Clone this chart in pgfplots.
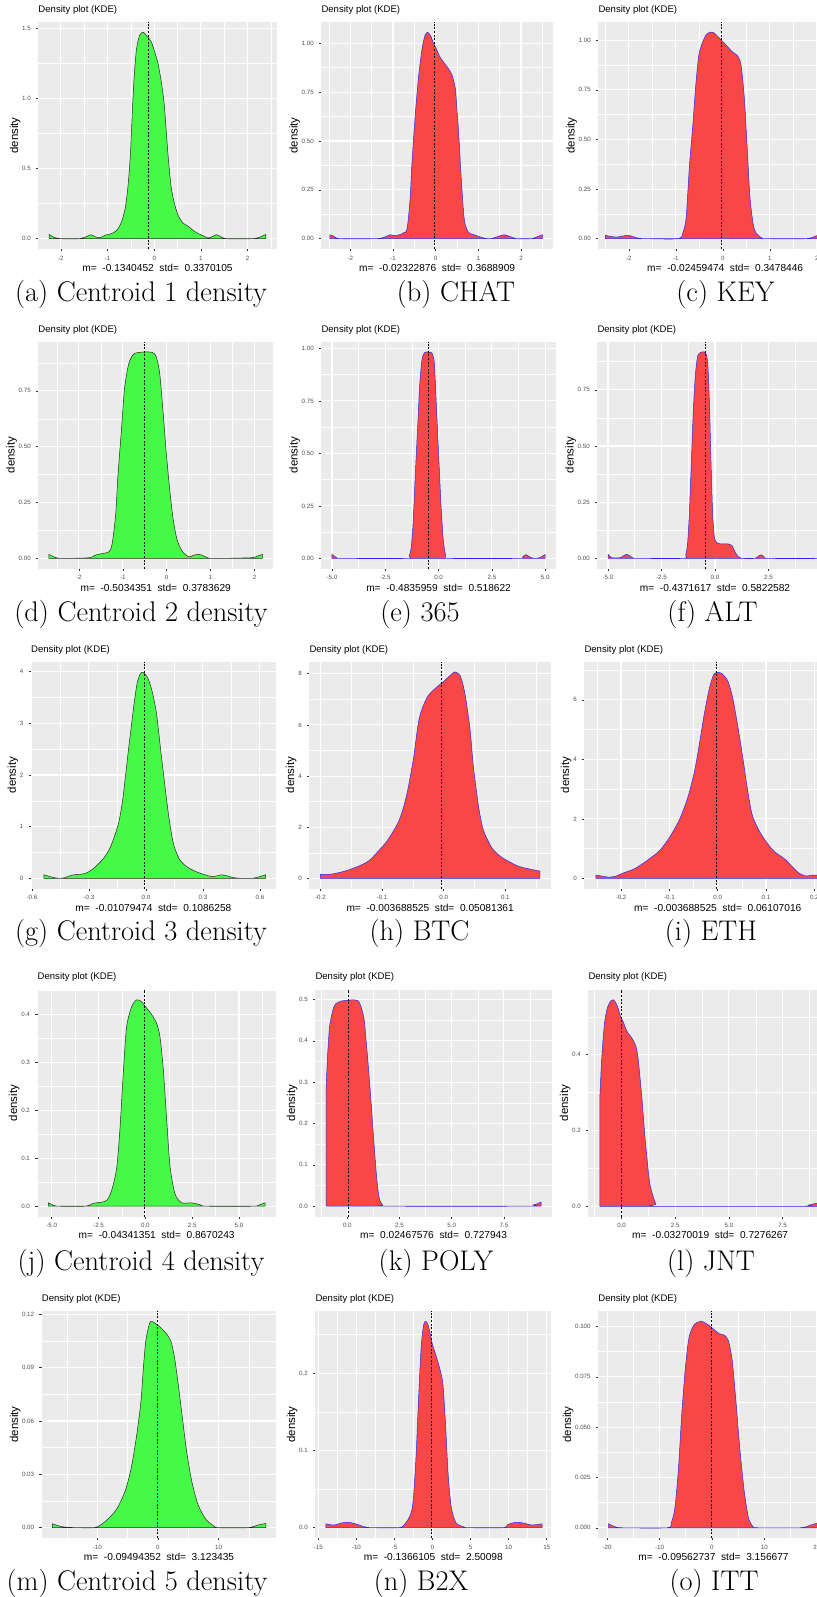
\documentclass[border=0pt]{standalone}
\usepackage{fontspec}
\setsansfont{Liberation Sans}
\usepackage{pgfplots}
\pgfplotsset{compat=1.18}
\definecolor{ggbg}{RGB}{235,235,235}
\definecolor{ggtick}{RGB}{51,51,51}
\definecolor{ggtxt}{RGB}{77,77,77}
\definecolor{gfill}{RGB}{71,249,71}
\definecolor{rfill}{RGB}{249,71,71}
\definecolor{rline}{RGB}{40,40,235}
\newcommand{\ggtitlefont}{\sffamily\fontsize{9.6}{11}\selectfont}
\newcommand{\gglabfont}{\sffamily\fontsize{10.2}{12}\selectfont}
\newcommand{\ggylabfont}{\sffamily\fontsize{11.5}{13}\selectfont}
\newcommand{\ggtickfont}{\sffamily\fontsize{6.2}{7}\selectfont}
\newcommand{\capfont}{\rmfamily\fontsize{28.5}{33}\selectfont}
\pgfplotsset{
  kde/.style={
    scale only axis, anchor=north west, height=227bp,
    axis background/.style={fill=ggbg, draw=none},
    axis line style={draw=none},
    xmajorgrids=true, ymajorgrids=true, xminorgrids=true, yminorgrids=true,
    major grid style={draw=white, line width=1.1bp},
    minor grid style={draw=white, line width=0.55bp},
    tick align=outside, tick pos=left,
    major tick length=2.2bp, minor tick length=0pt,
    major tick style={draw=ggtick, line width=0.5bp},
    tick label style={font=\ggtickfont, text=ggtxt},
    xticklabel style={anchor=north, inner sep=0pt, yshift=-4.5bp},
    yticklabel style={anchor=east, inner sep=0pt, xshift=-5.2bp},
    title={Density plot (KDE)},
    title style={at={(0,1)}, anchor=south west, inner sep=0pt, yshift=1.5bp, font=\ggtitlefont},
    xlabel style={at={(axis description cs:0.5,0)}, anchor=base, yshift=-22.4bp, inner sep=0pt, font=\gglabfont},
    ylabel={density},
    ylabel style={font=\ggylabfont, inner sep=1.5bp},
  },
  gden/.style={fill=gfill, draw=black!85, line width=0.5bp, smooth, tension=0.45},
  rden/.style={fill=rfill, draw=rline, line width=0.5bp, smooth, tension=0.45},
  mline/.style={black, line width=0.55bp, dash pattern=on 2bp off 1.6bp},
}
\begin{document}
\begin{tikzpicture}
\path[use as bounding box] (0,0) rectangle (817bp,-1597bp);
\clip (0,0) rectangle (817bp,-1597bp);

% ---------------- (a) Centroid 1
\begin{axis}[kde, at={(38.3bp,-22bp)}, width=238.4bp,
  xmin=-2.482, xmax=2.622, ymin=-0.0735, ymax=1.5435,
  xtick={-2,-1,0,1,2}, xticklabels={-2,-1,0,1,2},
  minor xtick={-1.5,-0.5,0.5,1.5,2.5},
  ytick={0,0.5,1,1.5}, yticklabels={0.0,0.5,1.0,1.5},
  minor ytick={0.25,0.75,1.25},
  xlabel={m=\ \ -0.1340452\ \ std=\ \ 0.3370105}]
\addplot[gden] coordinates {(-2.25,0.03) (-2.15,0.01) (-2.0,0) (-1.6,0) (-1.45,0.015) (-1.35,0.028) (-1.25,0.012) (-1.15,0.008) (-1.05,0.025) (-0.92,0.035) (-0.8,0.06) (-0.7,0.12) (-0.62,0.22) (-0.56,0.38) (-0.51,0.6) (-0.47,0.9) (-0.43,1.15) (-0.38,1.35) (-0.31,1.45) (-0.23,1.47) (-0.15,1.44) (-0.06,1.40) (0.02,1.32) (0.08,1.25) (0.15,1.12) (0.21,0.97) (0.25,0.8) (0.29,0.62) (0.33,0.47) (0.37,0.35) (0.44,0.24) (0.52,0.16) (0.62,0.11) (0.72,0.09) (0.85,0.055) (0.95,0.035) (1.05,0.02) (1.15,0.005) (1.25,0.015) (1.33,0.028) (1.42,0.015) (1.55,0) (2.1,0) (2.25,0.01) (2.39,0.03)} \closedcycle;
\addplot[mline] coordinates {(-0.1340452,-0.0735) (-0.1340452,1.5435)};
\end{axis}
\node[font=\capfont, anchor=base] at (141bp,-301.5bp) {(a) Centroid 1 density};

% ---------------- (b) CHAT
\begin{axis}[kde, at={(321.3bp,-22bp)}, width=231.7bp,
  xmin=-2.68, xmax=2.75, ymin=-0.053, ymax=1.109,
  xtick={-2,-1,0,1,2}, xticklabels={-2,-1,0,1,2},
  minor xtick={-2.5,-1.5,-0.5,0.5,1.5,2.5},
  ytick={0,0.25,0.5,0.75,1}, yticklabels={0.00,0.25,0.50,0.75,1.00},
  minor ytick={0.125,0.375,0.625,0.875},
  xlabel={m=\ \ -0.02322876\ \ std=\ \ 0.3688909}]
\addplot[rden] coordinates {(-2.48,0.02) (-2.38,0.012) (-2.25,0) (-1.4,0) (-1.2,0.008) (-1.07,0.02) (-0.95,0.015) (-0.85,0.02) (-0.75,0.03) (-0.67,0.05) (-0.6,0.2) (-0.56,0.37) (-0.48,0.63) (-0.4,0.83) (-0.32,0.97) (-0.25,1.04) (-0.19,1.056) (-0.12,1.04) (-0.05,1.0) (0,0.98) (0.1,0.93) (0.2,0.9) (0.3,0.87) (0.38,0.84) (0.46,0.77) (0.5,0.66) (0.54,0.54) (0.58,0.38) (0.62,0.24) (0.66,0.12) (0.7,0.065) (0.78,0.03) (0.9,0.02) (1.0,0.012) (1.15,0.002) (1.3,0) (1.45,0.01) (1.6,0.02) (1.75,0.01) (1.9,0) (2.25,0) (2.38,0.01) (2.5,0.02)} \closedcycle;
\addplot[mline] coordinates {(-0.02322876,-0.053) (-0.02322876,1.109)};
\end{axis}
\node[font=\capfont, anchor=base] at (456bp,-301.5bp) {(b) CHAT};

% ---------------- (c) KEY
\begin{axis}[kde, at={(598.3bp,-22bp)}, width=253.8bp,
  xmin=-2.65, xmax=2.75, ymin=-0.052, ymax=1.092,
  xtick={-2,-1,0,1,2}, xticklabels={-2,-1,0,1,2},
  minor xtick={-2.5,-1.5,-0.5,0.5,1.5,2.5},
  ytick={0,0.25,0.5,0.75,1}, yticklabels={0.00,0.25,0.50,0.75,1.00},
  minor ytick={0.125,0.375,0.625,0.875},
  xlabel={m=\ \ -0.02459474\ \ std=\ \ 0.3478446}]
\addplot[rden] coordinates {(-2.5,0.017) (-2.27,0.008) (-2.02,0.017) (-1.81,0.003) (-1.6,0) (-0.95,0) (-0.85,0.03) (-0.78,0.11) (-0.71,0.37) (-0.64,0.57) (-0.57,0.79) (-0.5,0.94) (-0.35,1.03) (-0.21,1.04) (-0.07,1.01) (0.07,0.975) (0.21,0.94) (0.32,0.92) (0.39,0.87) (0.46,0.7) (0.52,0.45) (0.58,0.2) (0.67,0.047) (0.82,0.005) (0.95,0) (1.77,0) (2.03,0.017) (2.2,0.008) (2.35,0.005) (2.5,0.02)} \closedcycle;
\addplot[mline] coordinates {(-0.02459474,-0.052) (-0.02459474,1.092)};
\end{axis}
\node[font=\capfont, anchor=base] at (725.5bp,-301.5bp) {(c) KEY};

% ---------------- (d) Centroid 2
\begin{axis}[kde, at={(38.3bp,-341.7bp)}, width=234.8bp,
  xmin=-2.923, xmax=2.423, ymin=-0.046, ymax=0.97,
  xtick={-2,-1,0,1,2}, xticklabels={-2,-1,0,1,2},
  minor xtick={-2.5,-1.5,-0.5,0.5,1.5},
  ytick={0,0.25,0.5,0.75}, yticklabels={0.00,0.25,0.50,0.75},
  minor ytick={0.125,0.375,0.625,0.875},
  xlabel={m=\ \ -0.5034351\ \ std=\ \ 0.3783629}]
\addplot[gden] coordinates {(-2.68,0.018) (-2.53,0.004) (-2.38,0) (-1.77,0.003) (-1.62,0.015) (-1.46,0.022) (-1.31,0.03) (-1.24,0.067) (-1.16,0.2) (-1.11,0.37) (-1.03,0.575) (-0.96,0.76) (-0.86,0.874) (-0.74,0.916) (-0.52,0.924) (-0.33,0.922) (-0.24,0.904) (-0.16,0.83) (-0.08,0.65) (-0.008,0.47) (0.07,0.306) (0.15,0.172) (0.24,0.082) (0.36,0.03) (0.51,0.007) (0.62,0.015) (0.75,0.018) (0.89,0.007) (1.04,0) (1.91,0.003) (2.06,0.01) (2.18,0.018)} \closedcycle;
\addplot[mline] coordinates {(-0.5034351,-0.046) (-0.5034351,0.97)};
\end{axis}
\node[font=\capfont, anchor=base] at (141bp,-621.5bp) {(d) Centroid 2 density};

% ---------------- (e) 365
\begin{axis}[kde, at={(321.3bp,-341.7bp)}, width=234.6bp,
  xmin=-5.5, xmax=5.5, ymin=-0.049, ymax=1.032,
  xtick={-5,-2.5,0,2.5,5}, xticklabels={-5.0,-2.5,0.0,2.5,5.0},
  minor xtick={-3.75,-1.25,1.25,3.75},
  ytick={0,0.25,0.5,0.75,1}, yticklabels={0.00,0.25,0.50,0.75,1.00},
  minor ytick={0.125,0.375,0.625,0.875},
  xlabel={m=\ \ -0.4835959\ \ std=\ \ 0.518622}]
\addplot[rden] coordinates {(-5.0,0.019) (-4.77,0.003) (-4.53,0) (-1.48,0) (-1.38,0.011) (-1.28,0.056) (-1.19,0.18) (-1.09,0.405) (-0.98,0.63) (-0.89,0.82) (-0.78,0.946) (-0.66,0.98) (-0.47,0.983) (-0.31,0.978) (-0.2,0.93) (-0.11,0.74) (0,0.5) (0.11,0.26) (0.22,0.087) (0.34,0.011) (0.47,0) (3.75,0) (3.94,0.008) (4.1,0.018) (4.3,0.005) (4.53,0) (4.77,0.005) (5.0,0.019)} \closedcycle;
\addplot[mline] coordinates {(-0.4835959,-0.049) (-0.4835959,1.032)};
\end{axis}
\node[font=\capfont, anchor=base] at (420bp,-621.5bp) {(e) 365};

% ---------------- (f) ALT
\begin{axis}[kde, at={(597.3bp,-341.7bp)}, width=235.4bp,
  xmin=-5.5, xmax=5.5, ymin=-0.046, ymax=0.964,
  xtick={-5,-2.5,0,2.5,5}, xticklabels={-5.0,-2.5,0.0,2.5,5.0},
  minor xtick={-3.75,-1.25,1.25,3.75},
  ytick={0,0.25,0.5,0.75}, yticklabels={0.00,0.25,0.50,0.75},
  minor ytick={0.125,0.375,0.625,0.875},
  xlabel={m=\ \ -0.4371617\ \ std=\ \ 0.5822582}]
\addplot[rden] coordinates {(-5.0,0.018) (-4.83,0.003) (-4.44,0.003) (-4.13,0.018) (-3.86,0.003) (-3.58,0) (-1.48,0) (-1.37,0.015) (-1.28,0.067) (-1.2,0.2) (-1.12,0.39) (-1.03,0.62) (-0.93,0.8) (-0.81,0.9) (-0.62,0.918) (-0.44,0.914) (-0.34,0.87) (-0.26,0.69) (-0.19,0.44) (-0.11,0.2) (-0.03,0.097) (0.08,0.07) (0.31,0.064) (0.62,0.064) (0.81,0.055) (0.93,0.03) (1.09,0.007) (1.25,0) (1.87,0) (2.02,0.01) (2.15,0.016) (2.3,0.007) (2.49,0) (4.8,0) (5.0,0.018)} \closedcycle;
\addplot[mline] coordinates {(-0.4371617,-0.046) (-0.4371617,0.964)};
\end{axis}
\node[font=\capfont, anchor=base] at (712.5bp,-621.5bp) {(f) ALT};

% ---------------- (g) Centroid 3
\begin{axis}[kde, at={(31bp,-661.7bp)}, width=244.7bp,
  xmin=-0.605, xmax=0.683, ymin=-0.2, ymax=4.19,
  xtick={-0.6,-0.3,0,0.3,0.6}, xticklabels={-0.6,-0.3,0.0,0.3,0.6},
  minor xtick={-0.45,-0.15,0.15,0.45},
  ytick={0,1,2,3,4}, yticklabels={0,1,2,3,4},
  minor ytick={0.5,1.5,2.5,3.5},
  xlabel={m=\ \ -0.01079474\ \ std=\ \ 0.1086258}]
\addplot[gden] coordinates {(-0.537,0.07) (-0.515,0.045) (-0.49,0.02) (-0.46,0.0) (-0.43,0.01) (-0.4,0.05) (-0.37,0.075) (-0.34,0.08) (-0.31,0.11) (-0.28,0.18) (-0.25,0.28) (-0.22,0.4) (-0.19,0.58) (-0.165,0.82) (-0.142,1.1) (-0.123,1.5) (-0.107,2.0) (-0.09,2.55) (-0.075,3.0) (-0.06,3.45) (-0.045,3.8) (-0.03,3.95) (-0.019,3.99) (-0.005,3.95) (0.01,3.87) (0.025,3.72) (0.04,3.5) (0.055,3.2) (0.068,2.8) (0.08,2.4) (0.093,2.0) (0.106,1.6) (0.12,1.2) (0.135,0.85) (0.15,0.6) (0.175,0.38) (0.2,0.27) (0.235,0.18) (0.27,0.12) (0.31,0.07) (0.345,0.035) (0.37,0.045) (0.4,0.07) (0.43,0.045) (0.46,0.015) (0.5,0.0) (0.56,0.0) (0.6,0.035) (0.63,0.07)} \closedcycle;
\addplot[mline] coordinates {(-0.01079474,-0.2) (-0.01079474,4.19)};
\end{axis}
\node[font=\capfont, anchor=base] at (141bp,-940bp) {(g) Centroid 3 density};

% ---------------- (h) BTC
\begin{axis}[kde, at={(309.3bp,-661.7bp)}, width=241.7bp,
  xmin=-0.218, xmax=0.174, ymin=-0.40, ymax=8.47,
  xtick={-0.2,-0.1,0,0.1}, xticklabels={-0.2,-0.1,0.0,0.1},
  minor xtick={-0.15,-0.05,0.05,0.15},
  ytick={0,2,4,6,8}, yticklabels={0,2,4,6,8},
  minor ytick={1,3,5,7},
  xlabel={m=\ \ -0.003688525\ \ std=\ \ 0.05081361}]
\addplot[rden] coordinates {(-0.2,0.16) (-0.182,0.17) (-0.16,0.29) (-0.138,0.48) (-0.122,0.68) (-0.111,0.94) (-0.092,1.46) (-0.074,2.18) (-0.065,2.8) (-0.058,3.5) (-0.049,4.7) (-0.041,6.1) (-0.034,6.7) (-0.025,7.15) (-0.014,7.42) (0,7.7) (0.008,7.88) (0.018,8.07) (0.026,7.95) (0.031,7.6) (0.036,7.0) (0.043,5.76) (0.048,4.4) (0.056,2.89) (0.062,2.1) (0.067,1.72) (0.078,1.2) (0.09,0.9) (0.1,0.74) (0.121,0.48) (0.143,0.35) (0.156,0.29)} \closedcycle;
\addplot[mline] coordinates {(-0.003688525,-0.4) (-0.003688525,8.47)};
\end{axis}
\node[font=\capfont, anchor=base] at (419.5bp,-940bp) {(h) BTC};

% ---------------- (i) ETH
\begin{axis}[kde, at={(584.3bp,-661.7bp)}, width=266.8bp,
  xmin=-0.276, xmax=0.276, ymin=-0.347, ymax=7.28,
  xtick={-0.2,-0.1,0,0.1,0.2}, xticklabels={-0.2,-0.1,0.0,0.1,0.2},
  minor xtick={-0.25,-0.15,-0.05,0.05,0.15,0.25},
  ytick={0,2,4,6}, yticklabels={0,2,4,6},
  minor ytick={1,3,5,7},
  xlabel={m=\ \ -0.003688525\ \ std=\ \ 0.06107016}]
\addplot[rden] coordinates {(-0.252,0.11) (-0.24,0.08) (-0.225,0.04) (-0.21,0.08) (-0.197,0.17) (-0.18,0.27) (-0.169,0.35) (-0.148,0.58) (-0.121,0.92) (-0.1,1.37) (-0.079,1.98) (-0.062,2.71) (-0.048,3.6) (-0.038,4.5) (-0.028,5.5) (-0.017,6.4) (-0.007,6.88) (0.007,6.9) (0.021,6.63) (0.031,6.07) (0.041,5.17) (0.052,4.05) (0.062,2.95) (0.072,2.1) (0.09,1.48) (0.114,0.95) (0.13,0.75) (0.141,0.62) (0.155,0.38) (0.168,0.18) (0.183,0.08) (0.197,0.11) (0.22,0.1) (0.25,0.1)} \closedcycle;
\addplot[mline] coordinates {(-0.003688525,-0.347) (-0.003688525,7.28)};
\end{axis}
\node[font=\capfont, anchor=base] at (711bp,-940bp) {(i) ETH};

% ---------------- (j) Centroid 4
\begin{axis}[kde, at={(37.5bp,-989.5bp)}, width=238.4bp,
  xmin=-5.76, xmax=6.97, ymin=-0.0215, ymax=0.4515,
  xtick={-5,-2.5,0,2.5,5}, xticklabels={-5.0,-2.5,0.0,2.5,5.0},
  minor xtick={-3.75,-1.25,1.25,3.75,6.25},
  ytick={0,0.1,0.2,0.3,0.4}, yticklabels={0.0,0.1,0.2,0.3,0.4},
  minor ytick={0.05,0.15,0.25,0.35,0.45},
  xlabel={m=\ \ -0.04341351\ \ std=\ \ 0.8670243}]
\addplot[gden] coordinates {(-5.18,0.007) (-4.9,0.002) (-4.64,0) (-3.22,0) (-2.78,0.006) (-2.42,0.008) (-2.06,0.012) (-1.8,0.033) (-1.53,0.08) (-1.35,0.165) (-1.17,0.284) (-1.0,0.374) (-0.73,0.416) (-0.46,0.43) (-0.2,0.426) (0,0.416) (0.34,0.399) (0.6,0.381) (0.78,0.353) (0.96,0.284) (1.14,0.179) (1.32,0.082) (1.58,0.026) (1.94,0.007) (2.47,0.007) (2.92,0.003) (3.27,0) (5.77,0) (6.1,0.003) (6.39,0.007)} \closedcycle;
\addplot[mline] coordinates {(-0.04341351,-0.0215) (-0.04341351,0.4515)};
\end{axis}
\node[font=\capfont, anchor=base] at (141bp,-1270bp) {(j) Centroid 4 density};

% ---------------- (k) POLY
\begin{axis}[kde, at={(315.3bp,-989.5bp)}, width=236.6bp,
  xmin=-1.535, xmax=9.8, ymin=-0.025, ymax=0.524,
  xtick={0,2.5,5,7.5}, xticklabels={0.0,2.5,5.0,7.5},
  minor xtick={-1.25,1.25,3.75,6.25,8.75},
  ytick={0,0.1,0.2,0.3,0.4,0.5}, yticklabels={0.0,0.1,0.2,0.3,0.4,0.5},
  minor ytick={0.05,0.15,0.25,0.35,0.45},
  xlabel={m=\ \ 0.02467576\ \ std=\ \ 0.727943}]
\addplot[rden] coordinates {(-1.02,0.28) (-0.98,0.33) (-0.94,0.37) (-0.86,0.43) (-0.78,0.455) (-0.66,0.48) (-0.54,0.49) (-0.3,0.496) (0,0.498) (0.34,0.499) (0.5,0.497) (0.6,0.49) (0.7,0.475) (0.81,0.45) (0.9,0.4) (0.97,0.36) (1.05,0.31) (1.13,0.256) (1.21,0.2) (1.29,0.143) (1.37,0.09) (1.45,0.046) (1.55,0.015) (1.69,0.003) (1.85,0) (8.6,0) (8.9,0.003) (9.1,0.006) (9.28,0.01)} \closedcycle;
\addplot[mline] coordinates {(0.02467576,-0.025) (0.02467576,0.524)};
\end{axis}
\node[font=\capfont, anchor=base] at (436bp,-1270bp) {(k) POLY};

% ---------------- (l) JNT
\begin{axis}[kde, at={(588.3bp,-989.5bp)}, width=243.7bp,
  xmin=-1.55, xmax=9.8, ymin=-0.027, ymax=0.572,
  xtick={0,2.5,5,7.5}, xticklabels={0.0,2.5,5.0,7.5},
  minor xtick={-1.25,1.25,3.75,6.25,8.75},
  ytick={0,0.2,0.4}, yticklabels={0.0,0.2,0.4},
  minor ytick={0.1,0.3,0.5},
  xlabel={m=\ \ -0.03270019\ \ std=\ \ 0.7276267}]
\addplot[rden] coordinates {(-1.01,0.29) (-0.97,0.34) (-0.93,0.385) (-0.85,0.45) (-0.78,0.49) (-0.7,0.515) (-0.62,0.53) (-0.5,0.542) (-0.39,0.545) (-0.28,0.538) (-0.16,0.522) (-0.04,0.5) (0.08,0.486) (0.2,0.468) (0.3,0.457) (0.39,0.451) (0.5,0.442) (0.62,0.429) (0.7,0.415) (0.78,0.385) (0.85,0.345) (0.93,0.297) (1.01,0.24) (1.09,0.182) (1.17,0.135) (1.24,0.094) (1.33,0.055) (1.48,0.024) (1.6,0.006) (1.71,0) (8.4,0) (8.7,0.003) (9.0,0.007) (9.3,0.009)} \closedcycle;
\addplot[mline] coordinates {(-0.03270019,-0.027) (-0.03270019,0.572)};
\end{axis}
\node[font=\capfont, anchor=base] at (711bp,-1270bp) {(l) JNT};

% ---------------- (m) Centroid 5
\begin{axis}[kde, at={(41.7bp,-1311bp)}, width=234.6bp,
  xmin=-19.15, xmax=19.5, ymin=-0.0058, ymax=0.1218,
  xtick={-10,0,10}, xticklabels={-10,0,10},
  minor xtick={-15,-5,5,15},
  ytick={0,0.03,0.06,0.09,0.12}, yticklabels={0.00,0.03,0.06,0.09,0.12},
  minor ytick={0.015,0.045,0.075,0.105},
  xlabel={m=\ \ -0.09494352\ \ std=\ \ 3.123435}]
\addplot[gden] coordinates {(-17.4,0.0022) (-16.1,0.0008) (-14.8,0.0002) (-10.6,0) (-9.3,0.0019) (-8.0,0.0056) (-6.7,0.011) (-5.4,0.0206) (-4.4,0.0336) (-3.5,0.052) (-2.8,0.071) (-2.4,0.0897) (-2.0,0.105) (-1.37,0.115) (-0.94,0.1159) (-0.26,0.1144) (0.6,0.112) (1.46,0.1088) (2.15,0.1047) (2.75,0.0953) (3.35,0.0804) (4.03,0.0617) (4.72,0.043) (5.58,0.026) (6.6,0.013) (7.9,0.0047) (9.2,0.001) (10,0) (14.8,0) (16.5,0.0015) (17.8,0.0024)} \closedcycle;
\addplot[mline] coordinates {(-0.09494352,-0.0058) (-0.09494352,0.1218)};
\end{axis}
\node[font=\capfont, anchor=base] at (137bp,-1590bp) {(m) Centroid 5 density};

% ---------------- (n) B2X
\begin{axis}[kde, at={(315.3bp,-1311bp)}, width=236bp,
  xmin=-15.4, xmax=15.6, ymin=-0.0134, ymax=0.2806,
  xtick={-15,-10,-5,0,5,10,15}, xticklabels={-15,-10,-5,0,5,10,15},
  minor xtick={-12.5,-7.5,-2.5,2.5,7.5,12.5},
  ytick={0,0.1,0.2}, yticklabels={0.0,0.1,0.2},
  minor ytick={0.05,0.15,0.25},
  xlabel={m=\ \ -0.1366105\ \ std=\ \ 2.50098}]
\addplot[rden] coordinates {(-14.0,0.005) (-13.0,0.0034) (-12.0,0.006) (-10.96,0.0069) (-9.9,0.0043) (-8.9,0.001) (-7.9,0) (-4.45,0) (-3.77,0.0034) (-3.08,0.013) (-2.6,0.03) (-2.2,0.086) (-1.85,0.164) (-1.5,0.233) (-1.16,0.263) (-0.82,0.267) (-0.48,0.259) (0,0.237) (0.55,0.22) (1.03,0.203) (1.37,0.185) (1.71,0.134) (2.05,0.069) (2.47,0.026) (3.08,0.0065) (4.1,0.001) (4.8,0) (9.25,0) (9.9,0.0043) (10.96,0.0069) (12.0,0.006) (13.0,0.0034) (14.4,0.005)} \closedcycle;
\addplot[mline] coordinates {(-0.1366105,-0.0134) (-0.1366105,0.2806)};
\end{axis}
\node[font=\capfont, anchor=base] at (421bp,-1590bp) {(n) B2X};

% ---------------- (o) ITT
\begin{axis}[kde, at={(598.2bp,-1311bp)}, width=230.6bp,
  xmin=-21.7, xmax=22.3, ymin=-0.0051, ymax=0.1077,
  xtick={-20,-10,0,10,20}, xticklabels={-20,-10,0,10,20},
  minor xtick={-15,-5,5,15},
  ytick={0,0.025,0.05,0.075,0.1}, yticklabels={0.000,0.025,0.050,0.075,0.100},
  minor ytick={0.0125,0.0375,0.0625,0.0875},
  xlabel={m=\ \ -0.09562737\ \ std=\ \ 3.156677}]
\addplot[rden] coordinates {(-19.7,0.002) (-18.5,0.0005) (-17,0) (-8.56,0) (-7.76,0.0025) (-7.06,0.0099) (-6.37,0.03) (-5.77,0.056) (-5.07,0.0795) (-4.38,0.0944) (-3.38,0.101) (-2.09,0.1026) (-0.8,0.101) (0.4,0.0985) (1.39,0.0964) (2.39,0.0957) (3.18,0.0927) (3.88,0.0828) (4.58,0.0629) (5.37,0.038) (6.17,0.018) (6.97,0.005) (7.86,0.0005) (8.86,0) (16.8,0) (18.8,0.0013) (20.3,0.0025)} \closedcycle;
\addplot[mline] coordinates {(-0.09562737,-0.0051) (-0.09562737,0.1077)};
\end{axis}
\node[font=\capfont, anchor=base] at (714bp,-1590bp) {(o) ITT};
\end{tikzpicture}
\end{document}
